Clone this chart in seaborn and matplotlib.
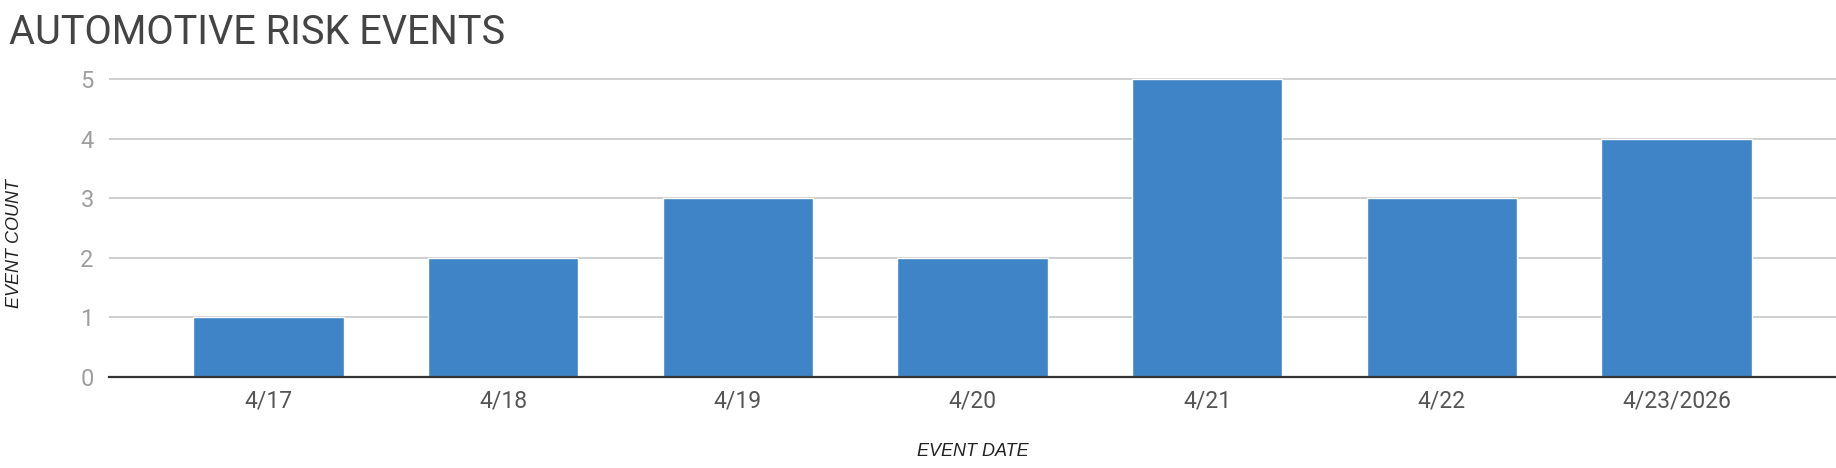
import matplotlib
matplotlib.use("Agg")
import matplotlib.pyplot as plt
import seaborn as sns
import pandas as pd

# data
dates = ["4/17", "4/18", "4/19", "4/20", "4/21", "4/22", "4/23/2026"]
counts = [1, 2, 3, 2, 5, 3, 4]

df = pd.DataFrame({"date": dates, "count": counts})

sns.set_style("white")
plt.rcParams["font.family"] = ["Roboto", "DejaVu Sans"]

fig = plt.figure(figsize=(18.36, 4.68), dpi=100)
ax = fig.add_axes([109 / 1836, 1 - 377 / 468, 1 - 109 / 1836, (377 - 76) / 468])

sns.barplot(data=df, x="date", y="count", color="#3f84c6", width=0.64,
            saturation=1, ax=ax, zorder=3)

ax.set_xlim(-0.68, len(dates) - 1 + 0.68)
ax.set_ylim(0, 5.05)
ax.set_yticks([0, 1, 2, 3, 4, 5])
ax.yaxis.grid(True, color="#cccccc", linewidth=1.3, zorder=0)
ax.set_axisbelow(True)

for s in ["top", "right", "left"]:
    ax.spines[s].set_visible(False)
ax.spines["bottom"].set_color("#333333")
ax.spines["bottom"].set_linewidth(1.6)
ax.spines["bottom"].set_zorder(4)

ax.tick_params(axis="y", length=0, pad=11, labelsize=17, labelcolor="#9e9e9e")
ax.tick_params(axis="x", length=0, pad=9, labelsize=16.5, labelcolor="#555555")

ax.set_xlabel("EVENT DATE", fontsize=13, style="italic", color="#222222",
              family=["Liberation Sans", "DejaVu Sans"], va="center")
ax.set_ylabel("EVENT COUNT", fontsize=13, style="italic", color="#222222",
              family=["Liberation Sans", "DejaVu Sans"], va="center")
ax.xaxis.set_label_coords(0.5, -0.249)
ax.yaxis.set_label_coords(-0.055, 0.445)

fig.text(9 / 1836, 1 - 44.5 / 468, "AUTOMOTIVE RISK EVENTS", fontsize=28.6,
         color="#444444", va="baseline", ha="left")

fig.savefig("out.png", dpi=100)
